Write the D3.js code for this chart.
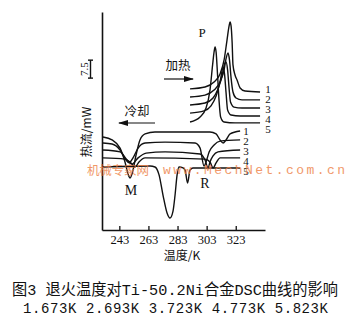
<!DOCTYPE html>
<html><head><meta charset="utf-8">
<script src="https://cdn.jsdelivr.net/npm/d3@7"></script>
<style>body{margin:0;background:#fff}svg{display:block}</style>
</head><body><svg id="c" width="360" height="322"></svg>
<script>
// ---- data (temperature K, heat flow mW, arbitrary offset) ----
const xTickValues = [243, 263, 283, 303, 323];
const curveLabels = ["1", "2", "3", "4", "5"];
const scaleBarValue = 7.5;
const scaleBarBase = 63.4;

// heating curves (endothermic peaks up)
const heat1T = [291.6,301.9,308.1,312.2,315.0,317.0,318.4,319.1,319.8,320.5,321.1,322.5,323.9,326.0,329.4,339.7];
const heat1H = [58.9,59.7,61.8,65.1,71.0,79.3,85.1,86.8,85.1,78.5,68.9,64.7,62.6,59.3,58.0,57.6];
const heat2T = [291.6,301.9,308.1,312.2,315.0,316.3,317.7,318.7,319.8,321.1,323.2,327.3,339.7];
const heat2H = [55.5,56.3,58.4,61.8,66.8,71.4,73.9,71.0,63.4,57.6,55.1,54.3,54.3];
const heat3T = [291.6,301.9,307.4,310.8,313.6,315.3,316.3,317.4,318.4,319.4,321.8,327.3,339.7];
const heat3H = [52.2,53.0,55.1,58.9,64.3,69.3,70.1,66.8,59.3,53.4,51.3,50.9,50.9];
const heat4T = [291.6,301.2,306.0,309.5,312.2,314.3,315.3,316.3,317.4,319.8,326.0,339.7];
const heat4H = [48.8,49.7,51.8,55.9,61.8,67.6,65.1,57.6,50.1,48.0,47.6,47.6];
const heat5T = [291.6,298.5,302.6,305.3,307.1,308.1,308.8,309.5,310.5,311.5,312.6,315.0,322.5,339.7];
const heat5H = [45.1,47.2,50.9,58.4,68.9,74.3,76.4,74.3,64.7,54.3,47.2,45.1,44.7,44.7];

// cooling curves (exothermic peaks down)
const cool1T = [231.8,238.0,243.5,246.9,249.0,250.4,252.1,254.5,257.2,260.7,267.5,305.3,309.5,312.2,314.3,316.3,319.1,326.0];
const cool1H = [38.8,37.6,34.2,28.4,23.4,21.7,24.2,31.3,37.6,40.1,40.9,40.9,40.1,37.6,36.3,37.6,40.1,41.3];
const cool2T = [231.8,238.0,243.5,247.6,249.7,252.4,255.9,260.7,274.4,295.0,298.5,301.2,302.6,304.7,308.1,312.2,326.0];
const cool2H = [36.3,35.9,33.4,29.2,28.0,30.1,34.2,36.3,36.7,36.3,34.2,26.7,28.4,32.6,35.5,37.1,37.6];
const cool3T = [231.8,243.5,248.3,251.7,255.9,261.4,274.4,298.5,301.9,304.0,305.3,307.4,310.8,326.0];
const cool3H = [33.4,32.6,29.2,27.5,30.1,32.1,32.6,31.7,29.2,25.9,28.4,30.9,32.6,33.4];
const cool4T = [231.8,246.9,251.0,253.8,256.5,260.7,301.9,305.3,307.4,309.5,312.2,326.0];
const cool4H = [30.1,29.6,28.0,26.3,28.4,30.1,29.6,28.4,25.9,28.0,30.1,30.1];
const cool5T = [231.8,264.1,267.5,270.3,273.0,275.8,277.8,279.9,281.3,282.7,284.0,286.8,288.2,289.9,291.6,293.6,326.0];
const cool5H = [26.3,26.7,26.3,23.0,14.6,7.1,5.0,7.9,14.6,23.0,26.3,25.9,25.0,19.6,25.0,25.9,25.9];

const heatTs = [heat1T, heat2T, heat3T, heat4T, heat5T];
const heatHs = [heat1H, heat2H, heat3H, heat4H, heat5H];
const coolTs = [cool1T, cool2T, cool3T, cool4T, cool5T];
const coolHs = [cool1H, cool2H, cool3H, cool4H, cool5H];

// ---- drawing ----
const svg = d3.select("#c");
svg.append("rect").attr("width", 360).attr("height", 322).attr("fill", "#fff");

const x = d3.scaleLinear().domain([231.1, 343.1]).range([102, 265]);
const y = d3.scaleLinear().domain([0, 91]).range([230, 12]);

const serif = "'Liberation Serif','Times New Roman',serif";
const cjk = "'Noto Sans CJK SC','Noto Sans',sans-serif";

const line = d3.line().x(d => x(d[0])).y(d => y(d[1])).curve(d3.curveMonotoneX);

const curves = svg.append("g").attr("fill", "none").attr("stroke", "#111")
  .attr("stroke-width", 1.4).attr("stroke-linejoin", "round");
heatTs.forEach((ts, i) => {
  curves.append("path").attr("d", line(ts.map((t, j) => [t, heatHs[i][j]])));
});
coolTs.forEach((ts, i) => {
  curves.append("path").attr("d", line(ts.map((t, j) => [t, coolHs[i][j]])));
});

// axes
const xAxis = svg.append("g").attr("transform", "translate(0,230)")
  .call(d3.axisBottom(x).tickValues(xTickValues).tickSize(-4).tickSizeOuter(0).tickPadding(5));
xAxis.select(".domain").attr("stroke", "#111").attr("stroke-width", 1.6);
xAxis.selectAll(".tick line").attr("stroke", "#111").attr("stroke-width", 1.3);
xAxis.selectAll(".tick text").attr("font-family", serif).attr("font-size", 12.5).attr("fill", "#111");

const yAxis = svg.append("g").attr("transform", "translate(102,0)")
  .call(d3.axisLeft(y).tickValues([]).tickSizeOuter(0));
yAxis.select(".domain").attr("stroke", "#111").attr("stroke-width", 1.6);

// x title
svg.append("text").attr("x", 182).attr("y", 260).attr("text-anchor", "middle")
  .attr("font-family", cjk).attr("font-size", 12).attr("fill", "#111").text("温度/K");

// y title (rotated)
svg.append("text").attr("transform", "translate(91,132) rotate(-90)").attr("text-anchor", "middle")
  .attr("font-family", cjk).attr("font-size", 12).attr("fill", "#111").text("热流/mW");

// scale bar 7.5 mW
const sb = svg.append("g").attr("stroke", "#111").attr("stroke-width", 1.4);
const sbTop = y(scaleBarBase + scaleBarValue), sbBot = y(scaleBarBase);
sb.append("line").attr("x1", 90.5).attr("x2", 90.5).attr("y1", sbTop).attr("y2", sbBot);
sb.append("line").attr("x1", 88).attr("x2", 93).attr("y1", sbTop).attr("y2", sbTop);
sb.append("line").attr("x1", 88).attr("x2", 93).attr("y1", sbBot).attr("y2", sbBot);
svg.append("text").attr("transform", `translate(88,${(sbTop + sbBot) / 2}) rotate(-90)`)
  .attr("text-anchor", "middle").attr("font-family", serif).attr("font-size", 11).attr("fill", "#111")
  .text(String(scaleBarValue));

// curve labels
curveLabels.forEach((lab, i) => {
  svg.append("text").attr("x", 268).attr("y", 89 + i * 10).attr("dy", "0.35em").attr("text-anchor", "middle")
    .attr("font-family", serif).attr("font-size", 11).attr("fill", "#111").text(lab);
  svg.append("text").attr("x", 246).attr("y", 131 + i * 10).attr("dy", "0.35em").attr("text-anchor", "middle")
    .attr("font-family", serif).attr("font-size", 11).attr("fill", "#111").text(lab);
});

// peak labels
const peakText = (t, px, py, fs) => svg.append("text").attr("x", px).attr("y", py).attr("dy", "0.35em")
  .attr("text-anchor", "middle").attr("font-family", serif).attr("font-size", fs).attr("fill", "#111").text(t);
peakText("P", 202, 32, 13);
peakText("M", 131, 190, 14);
peakText("R", 205, 183, 14);

// heating / cooling annotations with arrows
svg.append("defs").html(
  '<marker id="ah" viewBox="0 0 10 6" refX="9" refY="3" markerWidth="9" markerHeight="5" orient="auto-start-reverse">' +
  '<path d="M0,0 L10,3 L0,6 Z" fill="#111"/></marker>');
svg.append("text").attr("x", 178).attr("y", 70).attr("text-anchor", "middle")
  .attr("font-family", cjk).attr("font-size", 12.5).attr("fill", "#111").text("加热");
svg.append("line").attr("x1", 164).attr("x2", 193).attr("y1", 79).attr("y2", 79)
  .attr("stroke", "#111").attr("stroke-width", 1.2).attr("marker-end", "url(#ah)");
svg.append("text").attr("x", 137).attr("y", 116).attr("text-anchor", "middle")
  .attr("font-family", cjk).attr("font-size", 12.5).attr("fill", "#111").text("冷却");
svg.append("line").attr("x1", 155).attr("x2", 119).attr("y1", 123).attr("y2", 123)
  .attr("stroke", "#111").attr("stroke-width", 1.2).attr("marker-end", "url(#ah)");

// watermark
const wm = svg.append("g").attr("fill", "#ee7f45").attr("opacity", 0.8);
wm.append("text").attr("x", 87).attr("y", 175).attr("font-family", cjk).attr("font-size", 12.5)
  .attr("textLength", 62).attr("lengthAdjust", "spacing").text("机械专家网");
wm.append("text").attr("x", 163).attr("y", 174).attr("font-family", "'Liberation Mono',monospace").attr("font-size", 13)
  .attr("textLength", 182).attr("lengthAdjust", "spacing").text("www.MechNet.com.cn");

// caption
svg.append("text").attr("x", 12).attr("y", 295)
  .attr("font-family", "'Liberation Mono','Noto Sans CJK SC',monospace").attr("font-size", 15.5).attr("fill", "#111")
  .attr("textLength", 326).attr("lengthAdjust", "spacingAndGlyphs")
  .text("图3  退火温度对Ti-50.2Ni合金DSC曲线的影响");
svg.append("text").attr("x", 23).attr("y", 313)
  .attr("font-family", "'Liberation Mono',monospace").attr("font-size", 14).attr("fill", "#111")
  .attr("textLength", 305).attr("lengthAdjust", "spacing")
  .text("1.673K  2.693K  3.723K  4.773K  5.823K");
</script></body></html>
